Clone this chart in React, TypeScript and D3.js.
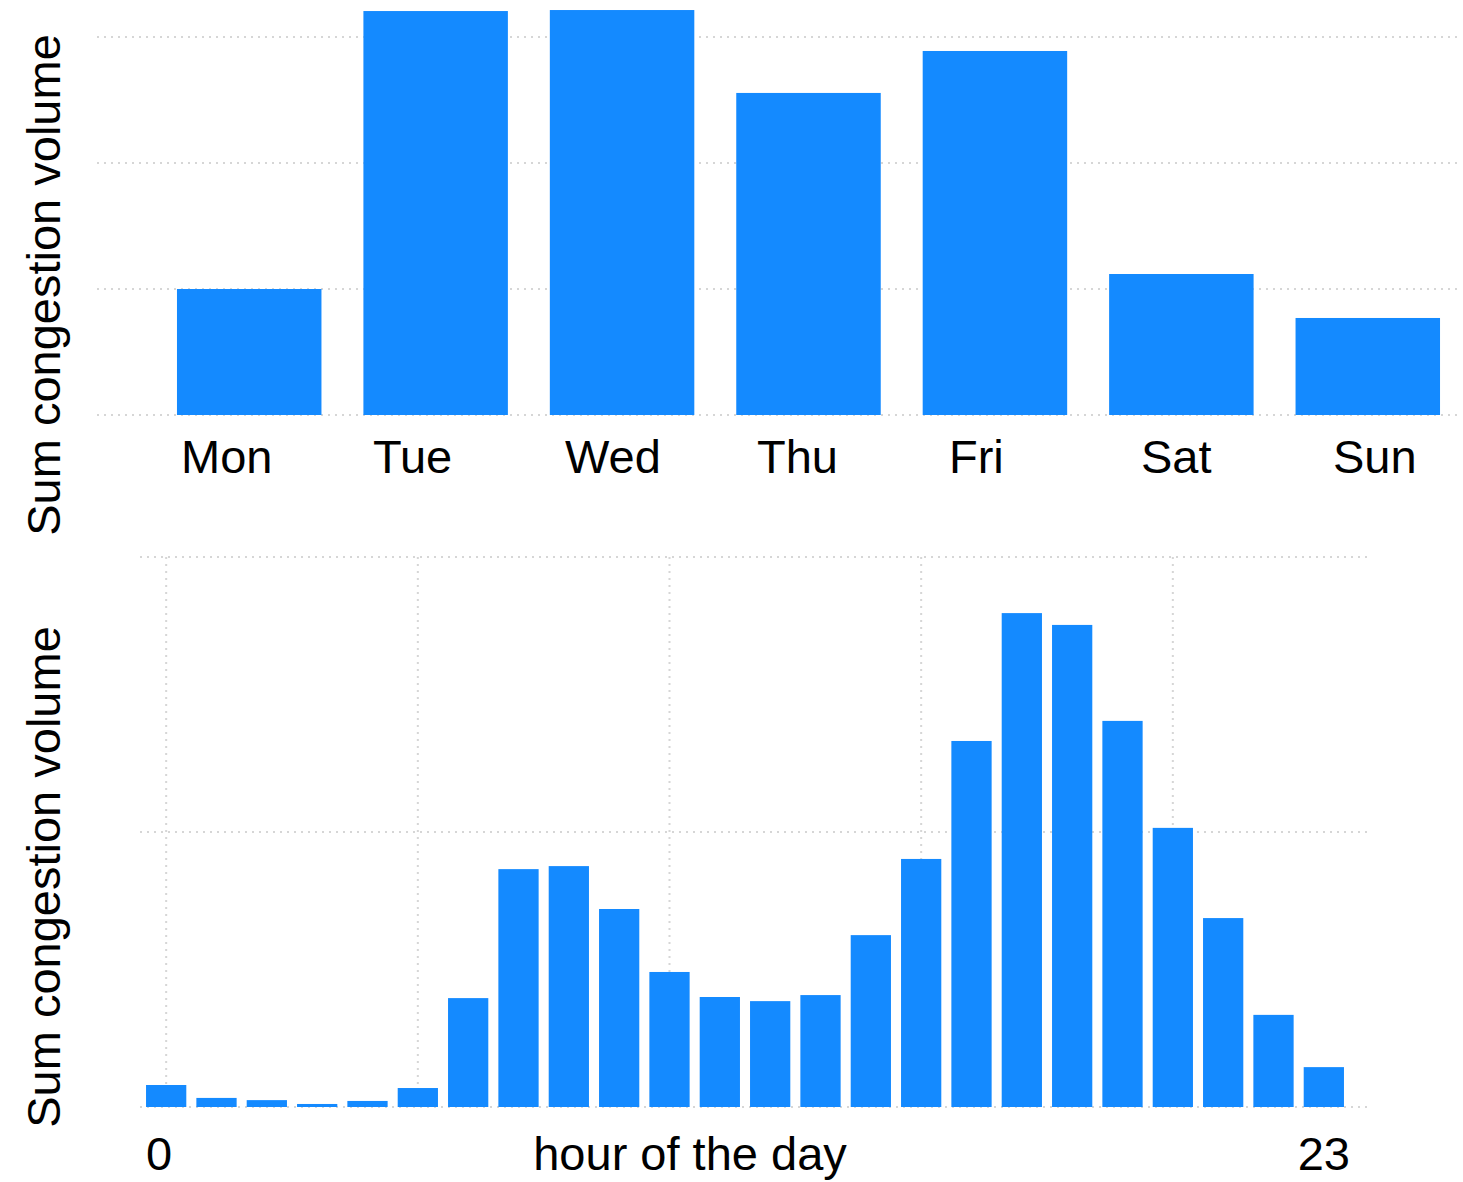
import React from 'react';
import * as d3 from 'd3';

const DAYS = ['Mon', 'Tue', 'Wed', 'Thu', 'Fri', 'Sat', 'Sun'];
const DAY_VALUES = [1000, 3206, 3214, 2556, 2889, 1119, 770];
const DAY_TICKS = [0, 1000, 2000, 3000];

const HOURS = d3.range(24);
const HOUR_VALUES = [
  80, 33, 25, 11, 22, 69, 396, 865, 876, 720, 491, 400,
  385, 407, 625, 902, 1331, 1796, 1753, 1404, 1015, 687, 335, 145,
];
const HOUR_TICKS = [0, 1000, 2000];
const HOUR_GRID = [0, 5, 10, 15, 20];

const W = 1463;
const H = 1182;
const BLUE = '#148AFF';
const GRID = '#d6d6d6';
const FONT = '"Liberation Sans", Arial, sans-serif';
const FS = 47;

export default function App() {
  // top chart: congestion by weekday
  const xDay = d3.scaleBand<string>().domain(DAYS).range([156, 1461])
    .paddingInner(0.225).paddingOuter(0.1125);
  const xDayLabel = d3.scalePoint<string>().domain(DAYS).range([181, 1333]);
  const yDay = d3.scaleLinear().domain([0, 3000]).range([415, 37]);

  // bottom chart: congestion by hour
  const xHour = d3.scaleBand<number>().domain(HOURS).range([141, 1349])
    .paddingInner(0.2).paddingOuter(0.1);
  const yHour = d3.scaleLinear().domain([0, 2000]).range([1107, 557]);
  const hx = (h: number) => (xHour(h) ?? 0) + xHour.bandwidth() / 2;

  return (
    <svg width={W} height={H} style={{ position: 'absolute', left: 0, top: 0, background: '#fff' }}
      fontFamily={FONT}>
      <g>
        {DAY_TICKS.map((t) => (
          <line key={t} x1={97} x2={1460} y1={yDay(t)} y2={yDay(t)}
            stroke={GRID} strokeWidth={2} strokeDasharray="2,5" />
        ))}
        {DAYS.map((d, i) => (
          <rect key={d} x={xDay(d)} width={xDay.bandwidth()}
            y={yDay(DAY_VALUES[i])} height={yDay(0) - yDay(DAY_VALUES[i])} fill={BLUE} />
        ))}
        {DAYS.map((d) => (
          <text key={d} x={xDayLabel(d)} y={473} fontSize={FS} fill="#000">{d}</text>
        ))}
        <text transform={`translate(60,285) rotate(-90)`} textAnchor="middle" fontSize={FS}>
          Sum congestion volume
        </text>
      </g>

      <g>
        {HOUR_TICKS.map((t) => (
          <line key={t} x1={140} x2={1367} y1={yHour(t)} y2={yHour(t)}
            stroke={GRID} strokeWidth={2} strokeDasharray="2,5" />
        ))}
        {HOUR_GRID.map((h) => (
          <line key={h} x1={hx(h)} x2={hx(h)} y1={yHour(2000)} y2={yHour(0)}
            stroke={GRID} strokeWidth={2} strokeDasharray="2,5" />
        ))}
        {HOURS.map((h, i) => (
          <rect key={h} x={xHour(h)} width={xHour.bandwidth()}
            y={yHour(HOUR_VALUES[i])} height={yHour(0) - yHour(HOUR_VALUES[i])} fill={BLUE} />
        ))}
        <text x={xHour(0)} y={1170} fontSize={FS}>0</text>
        <text x={hx(23)} y={1170} textAnchor="middle" fontSize={FS}>23</text>
        <text x={690} y={1170} textAnchor="middle" fontSize={FS}>hour of the day</text>
        <text transform={`translate(60,877) rotate(-90)`} textAnchor="middle" fontSize={FS}>
          Sum congestion volume
        </text>
      </g>
    </svg>
  );
}
